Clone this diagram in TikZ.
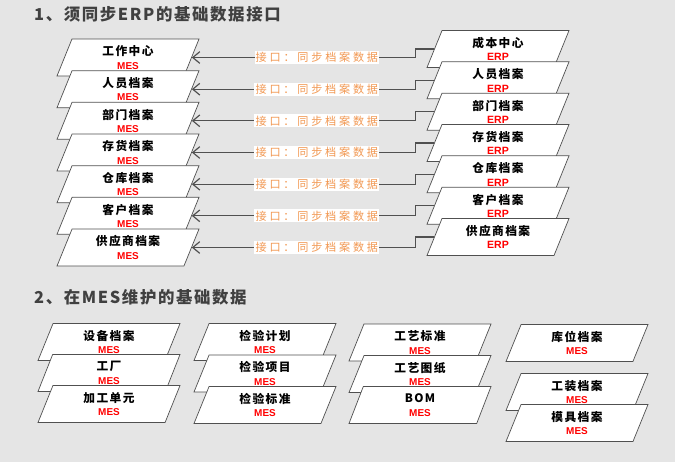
\documentclass[tikz,border=0pt]{standalone}
\usepackage{fontspec}
\setmainfont{Noto Sans CJK SC}
\newfontfamily\latinsf{Liberation Sans}
\usetikzlibrary{shapes.geometric,
  arrows.meta,
  positioning
}

\definecolor{pagegray}{RGB}{229,229,229}
\definecolor{linegray}{RGB}{80,80,80}
\definecolor{titlegray}{RGB}{64,64,64}
\definecolor{syncorange}{RGB}{242,152,82}

\newcommand{\tagmes}{{\latinsf\bfseries\fontsize{8.5}{9}\selectfont\color{red}MES}}
\newcommand{\tagerp}{{\latinsf\bfseries\fontsize{9}{9}\selectfont\color{red}ERP}}

\tikzset{
  databox/.style={trapezium, trapezium left angle=60, trapezium right angle=120,
    trapezium stretches body, minimum width=4.26cm, minimum height=1.11cm,
    draw=linegray, line width=0.6pt, fill=white, align=center, inner sep=1pt,
    font=\bfseries\fontsize{10}{11.5}\selectfont\addfontfeature{LetterSpace=12}},
  synclink/.style={-{Straight Barb[length=6pt, width=10pt]}, draw=linegray, line width=1pt},
  synclabel/.style={fill=white, inner sep=1pt, text=syncorange,
    font=\fontsize{9.5}{10}\selectfont\addfontfeature{LetterSpace=25}},
  heading/.style={anchor=west, text=titlegray,
    font=\bfseries\fontsize{14}{15}\selectfont\addfontfeature{LetterSpace=10}}
}

\begin{document}
\begin{tikzpicture}[x=0.03cm, y=-0.03cm]
  \fill[pagegray] (0, 0) rectangle (675, 462);

  \node[heading] (head1) at (30, 14) {1、须同步ERP的基础数据接口};
  \node[heading] (head2) at (30, 297) {2、在MES维护的基础数据};

  % MES side
  \node[databox] (m1) at (128, 57.5) {工作中心\\\tagmes};
  \node[databox] (m2) at (128, 89.2) {人员档案\\\tagmes};
  \node[databox] (m3) at (128, 120.8) {部门档案\\\tagmes};
  \node[databox] (m4) at (128, 152.5) {存货档案\\\tagmes};
  \node[databox] (m5) at (128, 184.2) {仓库档案\\\tagmes};
  \node[databox] (m6) at (128, 215.8) {客户档案\\\tagmes};
  \node[databox] (m7) at (128, 247.5) {供应商档案\\\tagmes};

  % ERP side
  \node[databox] (e1) at (498, 49) {成本中心\\\tagerp};
  \node[databox] (e2) at (498, 80.3) {人员档案\\\tagerp};
  \node[databox] (e3) at (498, 111.7) {部门档案\\\tagerp};
  \node[databox] (e4) at (498, 143) {存货档案\\\tagerp};
  \node[databox] (e5) at (498, 174.3) {仓库档案\\\tagerp};
  \node[databox] (e6) at (498, 205.7) {客户档案\\\tagerp};
  \node[databox] (e7) at (498, 237) {供应商档案\\\tagerp};

  % interfaces
  \draw[synclink] (e1.west) -- ++(-19, 0) |- node[synclabel, pos=0.72] {接口：同步档案数据} (m1.east);
  \draw[synclink] (e2.west) -- ++(-19, 0) |- node[synclabel, pos=0.72] {接口：同步档案数据} (m2.east);
  \draw[synclink] (e3.west) -- ++(-19, 0) |- node[synclabel, pos=0.72] {接口：同步档案数据} (m3.east);
  \draw[synclink] (e4.west) -- ++(-19, 0) |- node[synclabel, pos=0.72] {接口：同步档案数据} (m4.east);
  \draw[synclink] (e5.west) -- ++(-19, 0) |- node[synclabel, pos=0.72] {接口：同步档案数据} (m5.east);
  \draw[synclink] (e6.west) -- ++(-19, 0) |- node[synclabel, pos=0.72] {接口：同步档案数据} (m6.east);
  \draw[synclink] (e7.west) -- ++(-19, 0) |- node[synclabel, pos=0.72] {接口：同步档案数据} (m7.east);

  % kept in MES
  \node[databox] (equip) at (109, 342) {设备档案\\\tagmes};
  \node[databox] (plant) at (109, 373) {工厂\\\tagmes};
  \node[databox] (unit) at (109, 404) {加工单元\\\tagmes};

  \node[databox] (qplan) at (265, 342) {检验计划\\\tagmes};
  \node[databox] (qitem) at (265, 373.5) {检验项目\\\tagmes};
  \node[databox] (qstd) at (265, 405) {检验标准\\\tagmes};

  \node[databox] (pstd) at (420, 342.5) {工艺标准\\\tagmes};
  \node[databox] (pdraw) at (420, 374) {工艺图纸\\\tagmes};
  \node[databox] (bom) at (420, 405) {BOM\\\tagmes};

  \node[databox] (bin) at (577, 343) {库位档案\\\tagmes};
  \node[databox] (fixture) at (577, 392) {工装档案\\\tagmes};
  \node[databox] (mould) at (577, 423) {模具档案\\\tagmes};
\end{tikzpicture}
\end{document}
